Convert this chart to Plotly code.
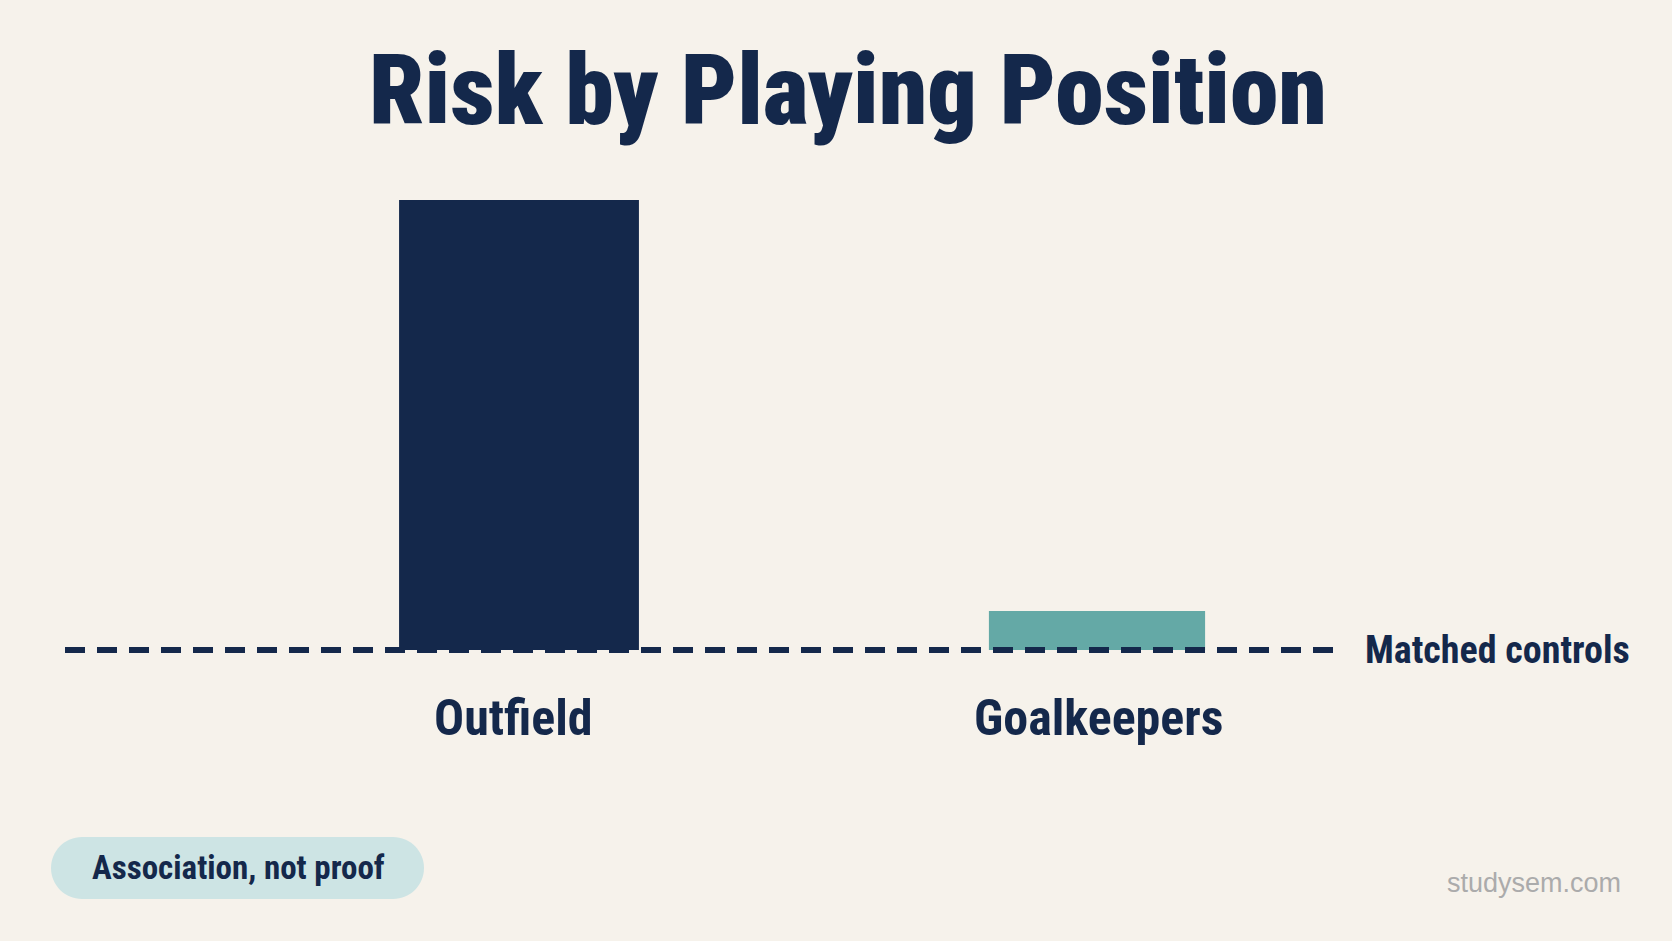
import plotly.graph_objects as go

# ---- data ----
categories = ["Outfield", "Goalkeepers"]
risk_values = [4.0, 1.26]          # relative risk vs matched controls
baseline_value = 1.0               # matched controls
baseline_label = "Matched controls"
title_text = "Risk by Playing Position"
pill_text = "Association, not proof"
watermark_text = "studysem.com"

# ---- style ----
W, H = 1672, 941
BG = "#f6f2eb"
NAVY = "#14284b"
TEAL = "#64a9a6"
PILL = "#cde4e4"
FONT = "Roboto Condensed, Liberation Sans, sans-serif"
bar_colors = [NAVY, TEAL]
bar_widths = [0.415, 0.374]
label_xshift = [-6, 2]

fig = go.Figure()
fig.add_trace(go.Bar(
    x=categories,
    y=[v - baseline_value for v in risk_values],
    base=[baseline_value] * len(risk_values),
    width=bar_widths,
    marker=dict(color=bar_colors, line=dict(width=0)),
    hoverinfo="skip",
))

# dashed baseline (matched controls)
fig.add_shape(type="line", xref="paper", yref="y",
              x0=65 / W, x1=1338 / W, y0=baseline_value, y1=baseline_value,
              line=dict(color=NAVY, width=6, dash="20px,12px"), layer="above")
fig.add_annotation(text=baseline_label, xref="paper", yref="y",
                   x=1363 / W, y=baseline_value, xanchor="left", yanchor="middle",
                   showarrow=False, font=dict(family=FONT, size=38, color=NAVY, weight=700))

# category labels
for c, dx in zip(categories, label_xshift):
    fig.add_annotation(text=c, xref="x", yref="paper", xshift=dx,
                       x=c, y=(H - 718) / H, xanchor="center", yanchor="middle",
                       showarrow=False, font=dict(family=FONT, size=50, color=NAVY, weight=700))

# title
fig.add_annotation(text=title_text, xref="paper", yref="paper",
                   x=848 / W, y=(H - 90) / H, xanchor="center", yanchor="middle",
                   showarrow=False, font=dict(family=FONT, size=98, color=NAVY, weight=900))

# pill
x0, x1 = 51 / W, 424 / W
y0, y1 = (H - 899) / H, (H - 837) / H
rx, ry = 31 / W, 31 / H
k = 0.5523
ym = (y0 + y1) / 2
path = (f"M {x0+rx},{y1} L {x1-rx},{y1} "
        f"C {x1-rx+k*rx},{y1} {x1},{ym+k*ry} {x1},{ym} "
        f"C {x1},{ym-k*ry} {x1-rx+k*rx},{y0} {x1-rx},{y0} "
        f"L {x0+rx},{y0} "
        f"C {x0+rx-k*rx},{y0} {x0},{ym-k*ry} {x0},{ym} "
        f"C {x0},{ym+k*ry} {x0+rx-k*rx},{y1} {x0+rx},{y1} Z")
fig.add_shape(type="path", xref="paper", yref="paper", path=path,
              fillcolor=PILL, line=dict(width=0), layer="below")
fig.add_annotation(text=pill_text, xref="paper", yref="paper",
                   x=238 / W, y=(H - 867) / H, xanchor="center", yanchor="middle",
                   showarrow=False, font=dict(family=FONT, size=33, color=NAVY, weight=700))

# watermark
fig.add_annotation(text=watermark_text, xref="paper", yref="paper",
                   x=1534 / W, y=(H - 883) / H, xanchor="center", yanchor="middle",
                   showarrow=False, font=dict(family="Liberation Sans, Arial, sans-serif", size=27, color="#ababab"))

# axes: 1 category unit = 578 px, first category at x=519 px; 150 px per risk unit, baseline at y=650 px
px_per_cat = 578.0
x_first = 519.0
px_per_unit = 150.0
base_px_from_bottom = H - 650
y_lo = baseline_value - base_px_from_bottom / px_per_unit
y_hi = y_lo + H / px_per_unit

fig.update_layout(
    width=W, height=H, margin=dict(l=0, r=0, t=0, b=0),
    paper_bgcolor=BG, plot_bgcolor=BG, showlegend=False,
    xaxis=dict(range=[-x_first / px_per_cat, (W - x_first) / px_per_cat],
               visible=False, fixedrange=True),
    yaxis=dict(range=[y_lo, y_hi], visible=False, fixedrange=True),
)

fig.write_html("out.html", config={"displayModeBar": False})
